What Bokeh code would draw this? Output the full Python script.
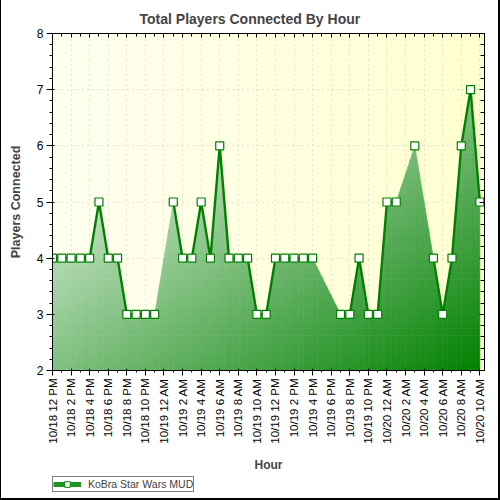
import math

from bokeh.embed import file_html
from bokeh.layouts import column
from bokeh.models import (FixedTicker, Legend, LegendItem, LinearAxis, Range1d,
                          SingleIntervalTicker)
from bokeh.plotting import figure
from bokeh.resources import INLINE

# Hours counted from 10/18 12 PM; hours with no sample are simply absent
hours = [0, 1, 2, 3, 4, 5, 6, 7, 8, 9, 10, 11,
         13, 14, 15, 16, 17, 18, 19, 20, 21, 22, 23,
         24, 25, 26, 27, 28,
         31, 32, 33, 34, 35,
         36, 37, 39, 41, 42, 43, 44, 45, 46]
players = [4, 4, 4, 4, 4, 5, 4, 4, 3, 3, 3, 3,
           5, 4, 4, 5, 4, 6, 4, 4, 4, 3, 3,
           4, 4, 4, 4, 4,
           3, 3, 4, 3, 3,
           5, 5, 6, 4, 3, 4, 6, 7, 5]

# One label every two hours
tick_labels = ["10/18 12 PM", "10/18 2 PM", "10/18 4 PM", "10/18 6 PM",
               "10/18 8 PM", "10/18 10 PM",
               "10/19 12 AM", "10/19 2 AM", "10/19 4 AM", "10/19 6 AM",
               "10/19 8 AM", "10/19 10 AM", "10/19 12 PM", "10/19 2 PM",
               "10/19 4 PM", "10/19 6 PM", "10/19 8 PM", "10/19 10 PM",
               "10/20 12 AM", "10/20 2 AM", "10/20 4 AM", "10/20 6 AM",
               "10/20 8 AM", "10/20 10 AM"]
series_name = "KoBra Star Wars MUD"

FONT = "Liberation Sans"
LINE_GREEN = "#008000"

tick_pos = [2 * i for i in range(len(tick_labels))]
minor_pos = [t + 1 for t in tick_pos]

x_lo, x_hi = 0, 46.5
y_lo, y_hi = 2, 8

p = figure(width=497, height=474,
           x_range=Range1d(x_lo, x_hi), y_range=Range1d(y_lo, y_hi),
           output_backend="svg", toolbar_location=None,
           min_border_left=51, min_border_right=14,
           min_border_top=33, min_border_bottom=104,
           background_fill_color="#FFFFE6", border_fill_color="white",
           outline_line_color="black", outline_line_width=1)

# ---- title ----
p.title.text = "Total Players Connected By Hour"
p.title.align = "left"
p.title.offset = 87
p.title.text_font = FONT
p.title.text_font_size = "14px"
p.title.text_font_style = "bold"
p.title.standoff = 13

# ---- pale yellow backdrop, whiter on the left ----
n_strips = 31
strip_w = (x_hi - x_lo) / n_strips
bg_left = [x_lo + i * strip_w for i in range(n_strips)]
bg_right = [x + strip_w for x in bg_left]
bg_cols = []
for i in range(n_strips):
    t = i / (n_strips - 1)
    b = int(round(240 - t * (240 - 208)))
    bg_cols.append("#FFFF%02X" % b)
p.quad(left=bg_left, right=bg_right, bottom=y_lo, top=y_hi,
       fill_color=bg_cols, line_color=bg_cols, line_width=0.6, level="image")


# ---- gradient-filled area under the series ----
def clip_below(poly, x0, v0, slope):
    """Clip a polygon to the half plane under the line through (x0, v0)."""
    f = lambda pt: v0 + slope * (pt[0] - x0) - pt[1]
    out = []
    n = len(poly)
    for i in range(n):
        a, b = poly[i], poly[(i + 1) % n]
        fa, fb = f(a), f(b)
        if fa >= 0:
            out.append(a)
        if (fa >= 0) != (fb >= 0):
            t = fa / (fa - fb)
            out.append((a[0] + t * (b[0] - a[0]), a[1] + t * (b[1] - a[1])))
    return out


def shade(cx, cy):
    # white at the upper-left of the filled region, pure green at lower-right
    h_span = hours[-1] - hours[0]
    v_top = max(players)
    t = ((cx - hours[0]) / h_span + (v_top - cy) / (v_top - y_lo)) / 2
    t = min(max(t, 0.0), 1.0)
    r = int(round(255 * (1 - t)))
    g = int(round(255 * (1 - t) + 128 * t))
    return "#%02X%02X%02X" % (r, g, r)


slice_w = 0.5
row_h = 0.125
area_xs, area_ys, area_cols = [], [], []
for k in range(len(hours) - 1):
    h0, h1 = hours[k], hours[k + 1]
    v0, v1 = players[k], players[k + 1]
    slope = (v1 - v0) / (h1 - h0)
    n_sl = int(round((h1 - h0) / slice_w))
    for s in range(n_sl):
        xa = h0 + s * slice_w
        xb = xa + slice_w
        top = max(v0 + slope * (xa - h0), v0 + slope * (xb - h0))
        n_rows = int(math.ceil((top - y_lo) / row_h - 1e-9))
        for r in range(n_rows):
            ya = y_lo + r * row_h
            yb = ya + row_h
            poly = clip_below([(xa, ya), (xb, ya), (xb, yb), (xa, yb)], h0, v0, slope)
            if len(poly) < 3:
                continue
            cx = sum(q[0] for q in poly) / len(poly)
            cy = sum(q[1] for q in poly) / len(poly)
            area_xs.append([q[0] for q in poly])
            area_ys.append([q[1] for q in poly])
            area_cols.append(shade(cx, cy))

p.patches(area_xs, area_ys, fill_color=area_cols, line_color=area_cols, line_width=0.6)

# ---- series line: drawn only between consecutive hours ----
runs_x, runs_y = [[hours[0]]], [[players[0]]]
for k in range(1, len(hours)):
    if hours[k] - hours[k - 1] == 1:
        runs_x[-1].append(hours[k])
        runs_y[-1].append(players[k])
    else:
        runs_x.append([hours[k]])
        runs_y.append([players[k]])
runs = [(xs, ys) for xs, ys in zip(runs_x, runs_y) if len(xs) > 1]
p.multi_line([r[0] for r in runs], [r[1] for r in runs],
             line_color=LINE_GREEN, line_width=2.4)
p.scatter(hours, players, marker="square", size=8,
          fill_color="white", line_color=LINE_GREEN, line_width=1.2)

# ---- grids ----
for g in (p.xgrid[0], p.ygrid[0]):
    g.grid_line_color = "#C8C8C8"
    g.grid_line_dash = "1 4"
    g.grid_line_width = 1

# ---- bottom axis ----
xax = p.xaxis[0]
xax.ticker = FixedTicker(ticks=tick_pos, minor_ticks=minor_pos)
xax.major_label_overrides = {t: lab for t, lab in zip(tick_pos, tick_labels)}
xax.major_label_orientation = math.pi / 2
xax.major_label_text_font = FONT
xax.major_label_text_font_size = "11.5px"
xax.major_label_text_color = "black"
xax.major_label_standoff = 3
xax.major_tick_in = 2
xax.major_tick_out = 5
xax.minor_tick_in = 0
xax.minor_tick_out = 2
xax.axis_line_color = "black"
xax.axis_label = "Hour"
xax.axis_label_text_font = FONT
xax.axis_label_text_font_size = "12px"
xax.axis_label_text_font_style = "bold"
xax.axis_label_standoff = 11

# ---- left axis ----
yax = p.yaxis[0]
yax.ticker = SingleIntervalTicker(interval=1, num_minor_ticks=5)
yax.major_label_text_font = FONT
yax.major_label_text_font_size = "12px"
yax.major_label_text_color = "black"
yax.major_label_standoff = 3
yax.major_tick_in = 2
yax.major_tick_out = 6
yax.minor_tick_in = 0
yax.minor_tick_out = 3
yax.axis_line_color = "black"
yax.axis_label = "Players Connected"
yax.axis_label_text_font = FONT
yax.axis_label_text_font_size = "12.5px"
yax.axis_label_text_font_style = "bold"
yax.axis_label_standoff = 11

# ---- mirrored frame axes (ticks only) ----
top_ax = LinearAxis(ticker=FixedTicker(ticks=tick_pos, minor_ticks=minor_pos),
                    major_label_overrides={t: "" for t in tick_pos},
                    major_label_standoff=0, major_tick_in=4, major_tick_out=0,
                    minor_tick_in=3, minor_tick_out=0, axis_line_color="black")
p.add_layout(top_ax, "above")
right_ax = LinearAxis(ticker=SingleIntervalTicker(interval=1, num_minor_ticks=5),
                      major_label_overrides={v: "" for v in range(y_lo, y_hi + 1)},
                      major_label_standoff=0, major_tick_in=5, major_tick_out=0,
                      minor_tick_in=4, minor_tick_out=0, axis_line_color="black")
p.add_layout(right_ax, "right")

# ---- legend strip under the chart ----
# The key's glyphs carry the series values, which sit outside the key's own
# ranges, so only their legend swatches are drawn.
key = figure(width=497, height=24, title=None, x_range=Range1d(0, 1), y_range=Range1d(0, 1),
             x_axis_type=None, y_axis_type=None, output_backend="svg",
             toolbar_location=None, min_border=0, outline_line_color=None,
             background_fill_color="white", border_fill_color="white")
key.grid.visible = False
key_line = key.line(x=hours, y=players, line_color="#1E961E", line_width=5)
key_mark = key.scatter(x=hours, y=players, marker="square", size=9,
                       fill_color="white", line_color=LINE_GREEN, line_width=1)
legend = Legend(items=[LegendItem(label=series_name, renderers=[key_line, key_mark])],
                location=(0, 6), orientation="horizontal",
                label_text_font=FONT, label_text_font_size="10.5px",
                border_line_color="black", border_line_width=1,
                background_fill_color="white", background_fill_alpha=1,
                padding=0, spacing=0, margin=0,
                glyph_height=14, glyph_width=28, label_height=10, label_standoff=7)
key.add_layout(legend, "center")

page = column(p, key, spacing=0)
page.styles = {"border-left": "1px solid black",
               "border-right": "2px solid black",
               "border-bottom": "2px solid black"}

open("out.html", "w").write(file_html(page, INLINE))
